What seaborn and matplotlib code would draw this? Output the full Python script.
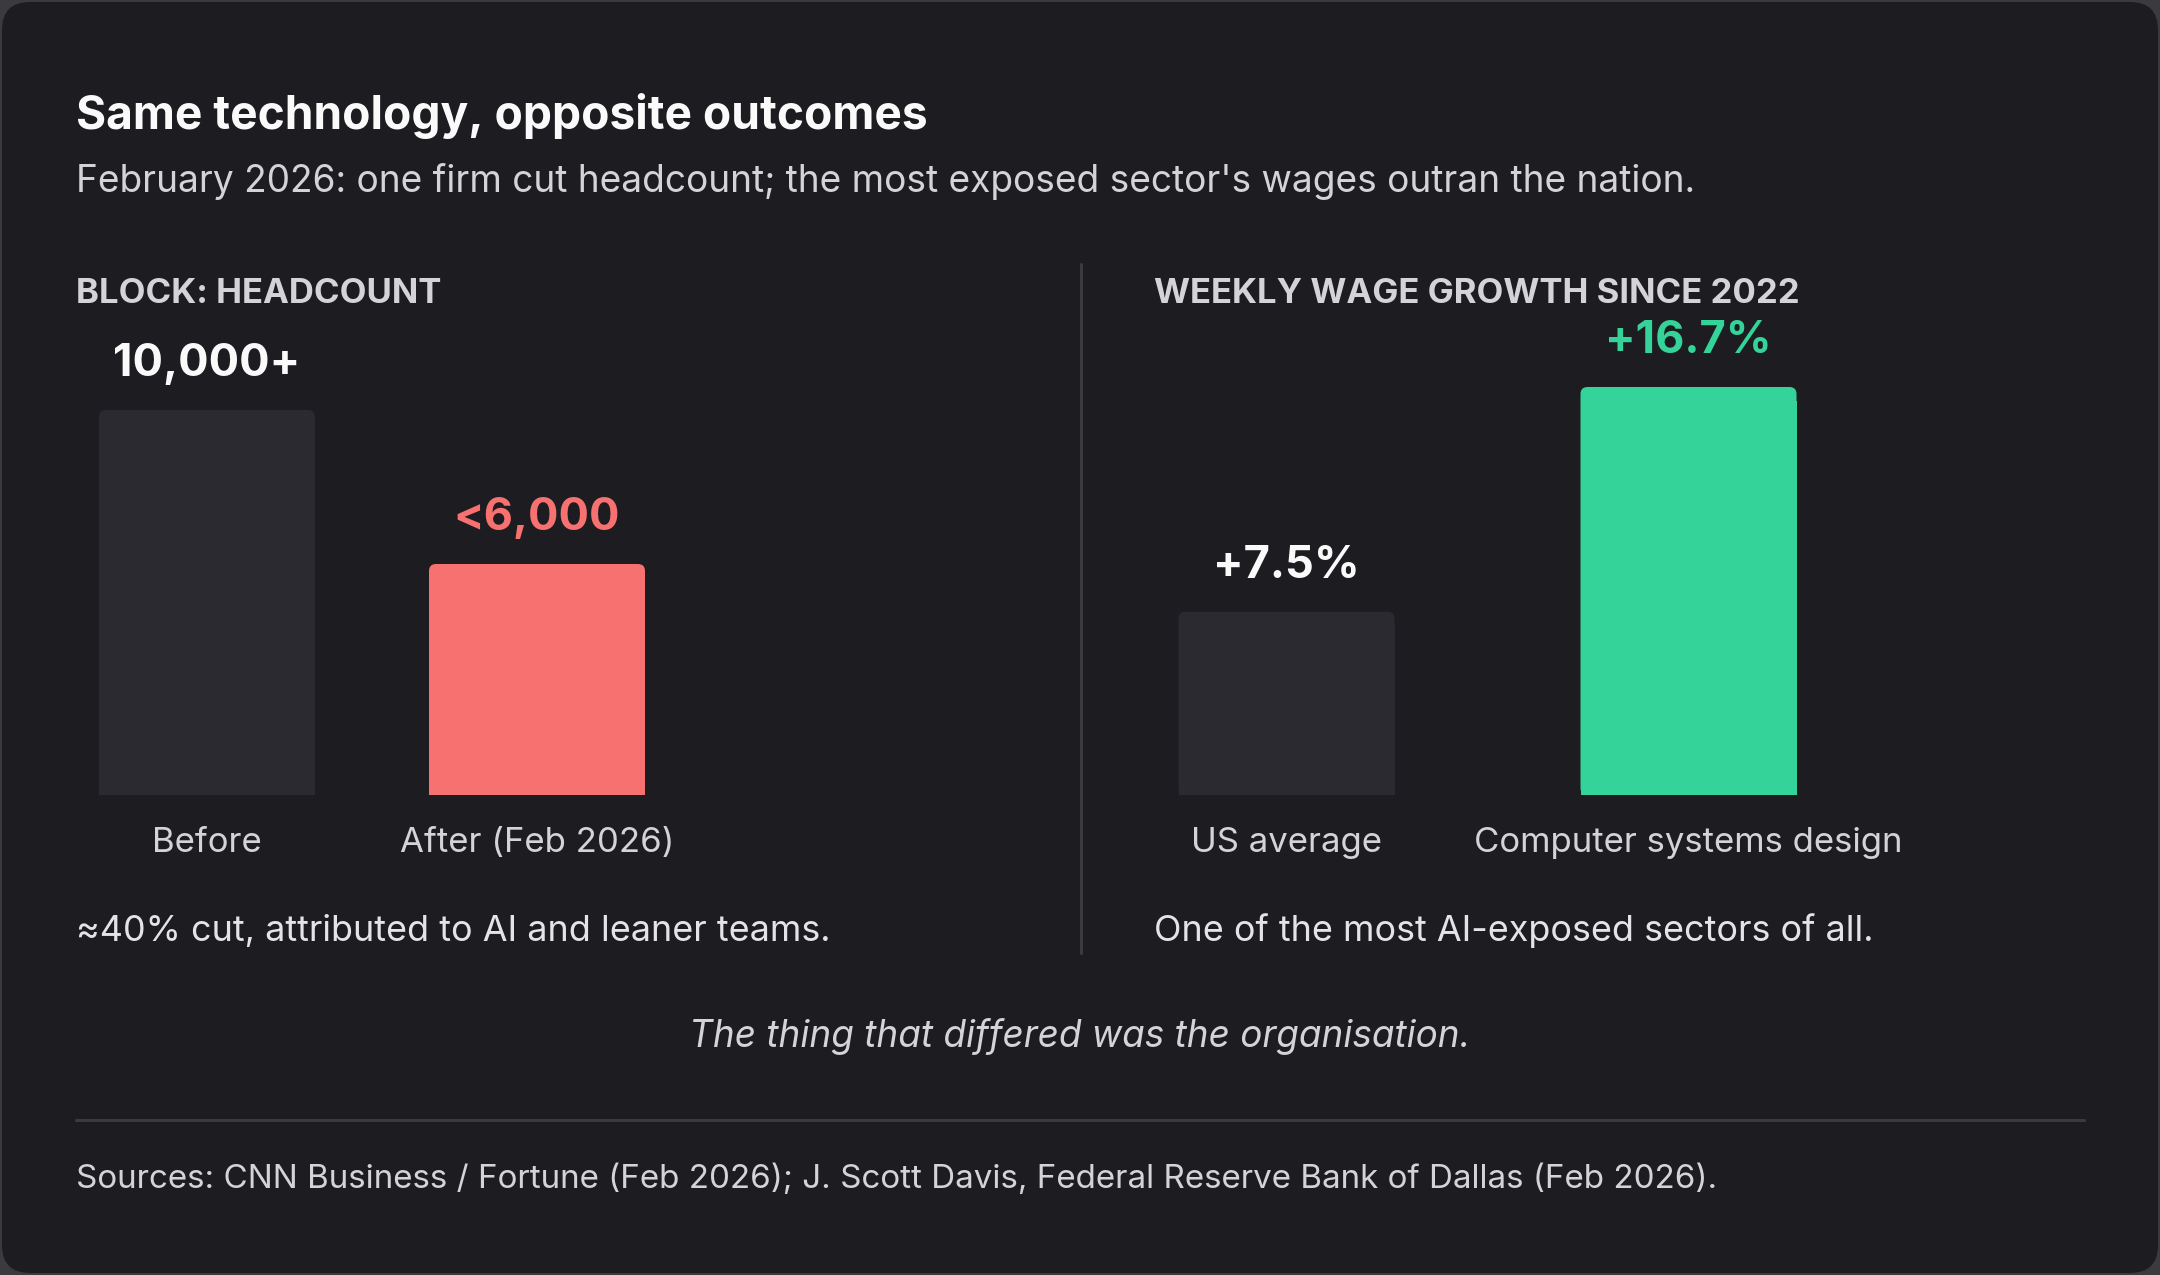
import matplotlib
matplotlib.use("Agg")
import matplotlib.pyplot as plt
import seaborn as sns
from matplotlib.patches import FancyBboxPatch
from matplotlib.lines import Line2D

# data
headcount_labels = ["Before", "After (Feb 2026)"]
headcount_values = [10000, 6000]
headcount_text = ["10,000+", "<6,000"]

wage_labels = ["US average", "Computer systems design"]
wage_values = [7.5, 16.7]
wage_text = ["+7.5%", "+16.7%"]

BG = "#1c1c21"
EDGE = "#3a3a3f"
BAR_DARK = "#2a2a30"
CORAL = "#f87171"
GREEN = "#34d399"
TEXT = "#d4d4d8"
WHITE = "#fafafa"

sns.set_theme(style="white")
plt.rcParams["font.family"] = ["Inter", "DejaVu Sans"]

W, H = 2160, 1275
fig = plt.figure(figsize=(W / 100, H / 100), dpi=100, facecolor=EDGE)


def fx(px):
    return px / W


def fy(py):
    return 1 - py / H


card = FancyBboxPatch((0.02, 0.02), (W - 4) / 100, (H - 4) / 100,
                      boxstyle="round,pad=0,rounding_size=0.28",
                      transform=fig.dpi_scale_trans, facecolor=BG,
                      edgecolor="none", zorder=-1)
fig.add_artist(card)

# headings
fig.text(fx(76), fy(129), "Same technology, opposite outcomes", fontsize=33.2,
         fontweight="bold", color=WHITE, va="baseline")
fig.text(fx(76), fy(192),
         "February 2026: one firm cut headcount; the most exposed sector's wages outran the nation.",
         fontsize=26.7, color=TEXT, va="baseline")
fig.text(fx(76), fy(303), "BLOCK: HEADCOUNT", fontsize=25, fontweight="bold",
         color=TEXT, va="baseline")
fig.text(fx(1154), fy(303), "WEEKLY WAGE GROWTH SINCE 2022", fontsize=25,
         fontweight="bold", color=TEXT, va="baseline")

# dividers
fig.add_artist(Line2D([fx(1081), fx(1081)], [fy(264), fy(953)],
                      transform=fig.transFigure, color=EDGE, lw=2.2))
fig.add_artist(Line2D([fx(76), fx(2084)], [fy(1120), fy(1120)],
                      transform=fig.transFigure, color=EDGE, lw=2.2))


def panel(left_px, width_px, labels, values, texts, colors, text_colors,
          bar_w, px_per_unit):
    ax_h = 500
    top = ax_h / px_per_unit
    ax = fig.add_axes([fx(left_px), fy(795), width_px / W, ax_h / H])
    sns.barplot(x=labels, y=values, hue=labels, palette=colors, legend=False,
                width=bar_w, saturation=1, linewidth=0, ax=ax)
    ax.set_xlim(-0.5, 1.5)
    ax.set_ylim(0, top)
    ax.set_facecolor("none")
    sns.despine(ax=ax, left=True, bottom=True)
    ax.set_yticks([])
    ax.set_xlabel("")
    ax.set_ylabel("")
    ax.tick_params(axis="x", length=0, pad=23, labelsize=25, labelcolor=TEXT)

    # rounded tops
    r = 7
    rx = r * 2 / width_px
    ry = r * top / ax_h
    for p in list(ax.patches):
        x, w, h = p.get_x(), p.get_width(), p.get_height()
        c = p.get_facecolor()
        ax.add_patch(FancyBboxPatch((x, 0), w, h,
                                    boxstyle=f"round,pad=0,rounding_size={rx}",
                                    mutation_aspect=ry / rx, facecolor=c,
                                    edgecolor="none", zorder=p.get_zorder()))
        p.set_height(h - ry * 2)

    for i, (v, t, tc) in enumerate(zip(values, texts, text_colors)):
        ax.annotate(t, xy=(i, v), xytext=(0, 24.5), textcoords="offset points",
                    ha="center", va="baseline", fontsize=32.5,
                    fontweight="bold", color=tc)
    return ax


panel(42, 660, headcount_labels, headcount_values, headcount_text,
      [BAR_DARK, CORAL], [WHITE, CORAL], 216 / 330, 385 / 10000)
panel(1085.5, 804, wage_labels, wage_values, wage_text,
      [BAR_DARK, GREEN], [WHITE, GREEN], 216 / 402, 408 / 16.7)

# notes
fig.text(fx(76), fy(941), "\u224840% cut, attributed to AI and leaner teams.",
         fontsize=25.9, color="#e4e4e7", va="baseline")
fig.text(fx(1154), fy(941), "One of the most AI-exposed sectors of all.",
         fontsize=25.9, color="#e4e4e7", va="baseline")
fig.text(fx(1080), fy(1047), "The thing that differed was the organisation.",
         fontsize=26.6, color=TEXT, style="italic", ha="center", va="baseline")
fig.text(fx(76), fy(1188),
         "Sources: CNN Business / Fortune (Feb 2026); J. Scott Davis, Federal Reserve Bank of Dallas (Feb 2026).",
         fontsize=23.9, color=TEXT, va="baseline")

fig.savefig("out.png", dpi=100, facecolor=EDGE)
